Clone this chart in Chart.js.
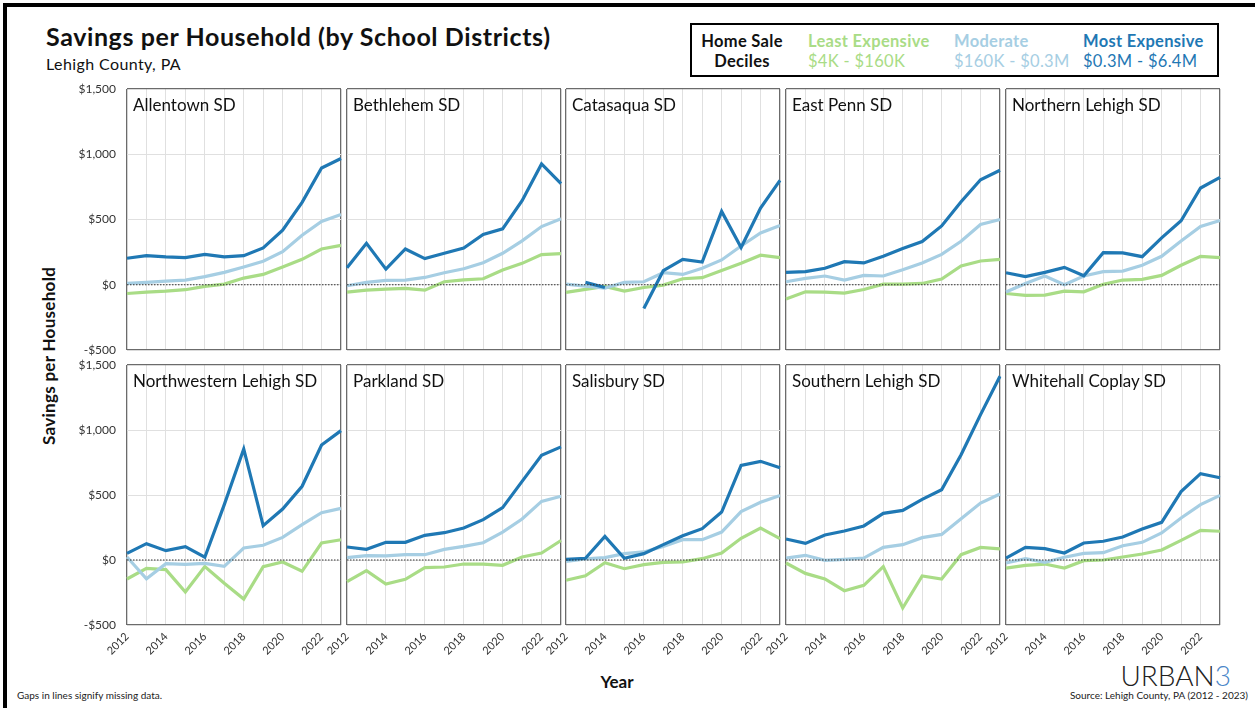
<!DOCTYPE html>
<html><head><meta charset="utf-8">
<script src="https://cdn.jsdelivr.net/npm/chart.js@4.4.1/dist/chart.umd.min.js"></script>
<style>
html,body{margin:0;padding:0;background:#fff;}
#root{position:relative;width:1255px;height:708px;overflow:hidden;font-family:Lato,'Noto Sans',sans-serif;color:#111;background:#fff;}
.abs{position:absolute;white-space:nowrap;}
canvas{position:absolute;}
.ptitle{position:absolute;white-space:nowrap;font-size:17px;line-height:17px;color:#111;}
.leg{position:absolute;white-space:nowrap;font-size:16.5px;line-height:20px;letter-spacing:0.3px;}
</style></head><body><div id="root">
<div class="abs" style="left:3px;top:3px;width:1260px;height:710px;border-left:4px solid #000;border-top:4px solid #000;"></div>
<div class="abs" style="left:46px;top:24px;font-size:25px;line-height:25px;font-weight:700;letter-spacing:0.6px;">Savings per Household (by School Districts)</div>
<div class="abs" style="left:46px;top:56px;font-size:16px;line-height:16px;letter-spacing:0.4px;">Lehigh County, PA</div>
<div class="abs" style="left:690px;top:23px;width:529px;height:54px;border:2px solid #000;box-sizing:border-box;"></div>
<div class="leg" style="left:698px;top:31px;width:88px;text-align:center;font-weight:700;color:#111;">Home Sale<br>Deciles</div>
<div class="leg" style="left:808px;top:31px;color:#a9dc86;"><b>Least Expensive</b><br>$4K - $160K</div>
<div class="leg" style="left:954px;top:31px;color:#a6cee3;"><b>Moderate</b><br>$160K - $0.3M</div>
<div class="leg" style="left:1083px;top:31px;color:#1f78b4;"><b>Most Expensive</b><br>$0.3M - $6.4M</div>
<div class="abs" style="left:48px;top:356px;font-size:17px;line-height:17px;font-weight:700;letter-spacing:0.3px;transform:translate(-50%,-50%) rotate(-90deg);">Savings per Household</div>
<div class="abs" style="left:617px;top:681px;font-size:17px;line-height:17px;font-weight:700;transform:translate(-50%,-50%);">Year</div>
<div class="abs" style="left:17px;top:689px;font-size:10px;line-height:12px;color:#222;">Gaps in lines signify missing data.</div>
<div class="abs" style="right:7px;top:689px;font-size:10px;line-height:12px;color:#222;">Source: Lehigh County, PA (2012 - 2023)</div>
<div class="abs" style="right:24px;top:661px;font-size:28px;line-height:28px;font-weight:300;color:#222;">URBAN<span style="color:#4a86c8;">3</span></div>
</div>
<script>
const years = [2012,2013,2014,2015,2016,2017,2018,2019,2020,2021,2022,2023];
const districts = ['Allentown SD','Bethlehem SD','Catasaqua SD','East Penn SD','Northern Lehigh SD',
  'Northwestern Lehigh SD','Parkland SD','Salisbury SD','Southern Lehigh SD','Whitehall Coplay SD'];
const yTicks = [-500, 0, 500, 1000, 1500];
const xTickLabels = ['2012','2014','2016','2018','2020','2022'];
const seriesNames = ['Least Expensive','Moderate','Most Expensive'];

const allentownLeast = [-67,-56,-49,-38,-13,5,51,79,136,195,274,302];
const allentownModerate = [10,18,28,36,62,95,136,180,254,380,485,538];
const allentownMost = [203,223,213,208,233,213,223,282,418,631,895,967];

const bethlehemLeast = [-56,-41,-33,-28,-41,23,38,46,113,164,231,238];
const bethlehemModerate = [-8,18,33,36,56,92,123,169,241,336,446,505];
const bethlehemMost = [131,318,120,274,200,241,282,385,428,644,926,775];

const catasaquaLeast = [-59,-36,-13,-49,-21,-3,46,54,110,164,226,208];
const catasaquaModerate = [5,-10,-26,18,23,92,79,126,190,297,397,454];
const catasaquaMost = [null,18,-21,null,-182,108,195,174,562,285,587,800];

const eastPennLeast = [-110,-54,-56,-64,-36,5,5,10,44,144,182,195];
const eastPennModerate = [23,49,67,36,72,67,115,167,233,333,462,500];
const eastPennMost = [95,100,126,177,167,218,277,331,451,636,805,877];

const northernLehighLeast = [-67,-82,-80,-49,-54,3,36,41,72,149,218,208];
const northernLehighModerate = [-56,10,67,0,67,100,105,149,218,336,446,492];
const northernLehighMost = [92,62,95,133,69,246,244,215,359,490,741,823];

const northwesternLehighLeast = [-146,-64,-74,-246,-51,-179,-300,-51,-15,-87,131,156];
const northwesternLehighModerate = [23,-144,-28,-33,-26,-49,92,113,174,272,364,397];
const northwesternLehighMost = [51,126,72,103,21,426,854,264,392,567,885,995];

const parklandLeast = [-167,-82,-185,-149,-59,-54,-31,-31,-41,23,54,150];
const parklandModerate = [18,33,31,41,41,82,105,133,215,315,451,490];
const parklandMost = [100,82,136,136,190,210,246,310,403,605,805,870];

const salisburyLeast = [-156,-121,-21,-67,-36,-18,-15,10,54,167,246,164];
const salisburyModerate = [-10,8,18,49,62,105,156,156,215,372,444,497];
const salisburyMost = [5,13,182,13,49,118,187,241,369,728,759,710];

const southernLehighLeast = [-23,-103,-146,-236,-195,-51,-369,-123,-146,41,97,85];
const southernLehighModerate = [15,36,-3,5,15,97,118,172,197,318,438,508];
const southernLehighMost = [162,128,192,223,262,359,382,467,541,810,1118,1413];

const whitehallCoplayLeast = [-62,-41,-31,-62,-5,0,23,46,77,151,228,221];
const whitehallCoplayModerate = [-23,10,-18,21,51,56,110,136,208,323,426,497];
const whitehallCoplayMost = [15,97,87,54,131,144,177,238,290,526,664,633];

const table = [
  [allentownLeast, allentownModerate, allentownMost],
  [bethlehemLeast, bethlehemModerate, bethlehemMost],
  [catasaquaLeast, catasaquaModerate, catasaquaMost],
  [eastPennLeast, eastPennModerate, eastPennMost],
  [northernLehighLeast, northernLehighModerate, northernLehighMost],
  [northwesternLehighLeast, northwesternLehighModerate, northwesternLehighMost],
  [parklandLeast, parklandModerate, parklandMost],
  [salisburyLeast, salisburyModerate, salisburyMost],
  [southernLehighLeast, southernLehighModerate, southernLehighMost],
  [whitehallCoplayLeast, whitehallCoplayModerate, whitehallCoplayMost]
];

const COLORS = ['#a9dc86', '#a6cee3', '#1f78b4'];
const PANEL_LEFT = [127, 347, 566, 786, 1006];
const PANEL_TOP = [89, 365];
const PANEL_H = [261, 260];
const PANEL_W = 214;
const PAD_L = 60, PAD_R = 16, PAD_T = 22;
const EDGE = '#6b6b6b', GRID = '#e0e0e0';
const root = document.getElementById('root');

function fmtMoney(v) {
  const a = Math.abs(v).toLocaleString('en-US');
  return (v < 0 ? '-$' : '$') + a;
}

districts.forEach((name, i) => {
  const r = Math.floor(i / 5), c = i % 5;
  const xh = r === 1 ? 45 : 22;
  const w = PAD_L + PANEL_W + PAD_R;
  const h = PAD_T + PANEL_H[r] + xh;
  const cv = document.createElement('canvas');
  cv.width = w; cv.height = h;
  cv.style.left = (PANEL_LEFT[c] - PAD_L) + 'px';
  cv.style.top = (PANEL_TOP[r] - PAD_T) + 'px';
  cv.style.width = w + 'px'; cv.style.height = h + 'px';
  root.appendChild(cv);

  const t = document.createElement('div');
  t.className = 'ptitle';
  t.textContent = name;
  t.style.left = (PANEL_LEFT[c] + 6) + 'px';
  t.style.top = (PANEL_TOP[r] + 6.5) + 'px';
  root.appendChild(t);

  const rows = table[i];
  const datasets = [{
    label: 'zero', data: years.map(() => 0), borderColor: '#333', borderWidth: 1,
    borderDash: [1.5, 1.5], pointRadius: 0, tension: 0
  }];
  for (let s = 2; s >= 0; s--) {
    datasets.push({
      label: seriesNames[s], data: rows[s], borderColor: COLORS[s], borderWidth: 3.2,
      pointRadius: 0, tension: 0, spanGaps: false, fill: false
    });
  }

  new Chart(cv, {
    type: 'line',
    data: { labels: years.map(String), datasets },
    options: {
      responsive: false, animation: false, events: [],
      layout: { padding: { left: 0, right: PAD_R, top: PAD_T, bottom: 0 } },
      plugins: { legend: { display: false }, tooltip: { enabled: false } },
      scales: {
        x: {
          type: 'category',
          offset: false,
          border: { display: false },
          grid: {
            drawTicks: false,
            color: ctx => (ctx.index === 0 || ctx.index === years.length - 1) ? EDGE : GRID,
            lineWidth: ctx => (ctx.index === 0 || ctx.index === years.length - 1) ? 1.3 : 1
          },
          ticks: {
            display: r === 1,
            autoSkip: false, maxRotation: 45, minRotation: 45, padding: 5,
            color: '#333', font: { family: 'Lato', size: 11 },
            callback: function(v, idx) {
              const lab = String(years[idx]);
              return xTickLabels.includes(lab) ? lab : '';
            }
          },
          afterFit: s => { s.height = xh; }
        },
        y: {
          min: yTicks[0], max: yTicks[yTicks.length - 1],
          border: { display: false },
          afterBuildTicks: s => { s.ticks = yTicks.map(v => ({ value: v })); },
          grid: {
            drawTicks: false,
            color: ctx => (ctx.tick && (ctx.tick.value === 1500 || ctx.tick.value === -500)) ? EDGE : GRID,
            lineWidth: ctx => (ctx.tick && (ctx.tick.value === 1500 || ctx.tick.value === -500)) ? 1.3 : 1
          },
          ticks: {
            display: c === 0, padding: 11, color: '#333',
            font: { family: 'Lato', size: 12 },
            callback: v => fmtMoney(v)
          },
          afterFit: s => { s.width = PAD_L; }
        }
      }
    }
  });
});
</script>
</body></html>
